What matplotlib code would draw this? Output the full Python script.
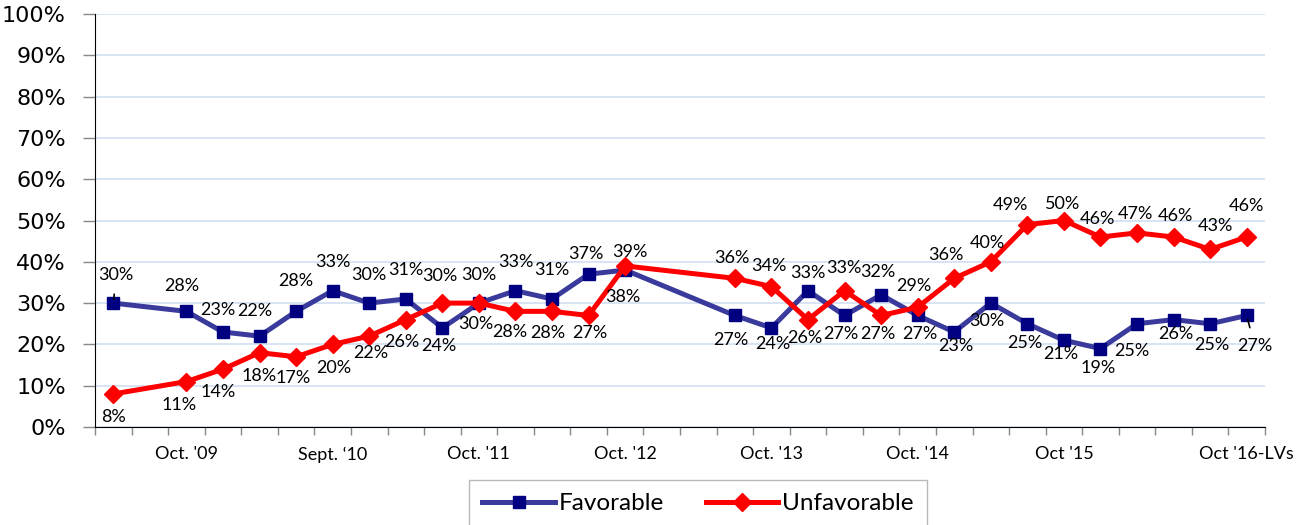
import matplotlib
matplotlib.use("Agg")
import matplotlib.pyplot as plt
from matplotlib.lines import Line2D

# ---------------- data ----------------
categories = ["", "", "Oct. '09", "", "", "", "Sept. \u201810", "", "", "", "Oct. '11", "", "", "",
              "Oct. '12", "", "", "", "Oct. '13", "", "", "", "Oct. '14", "", "", "",
              "Oct '15", "", "", "", "", "Oct '16-LVs"]
favorable = [30, None, 28, 23, 22, 28, 33, 30, 31, 24, 30, 33, 31, 37, 38, None, None,
             27, 24, 33, 27, 32, 27, 23, 30, 25, 21, 19, 25, 26, 25, 27]
unfavorable = [8, None, 11, 14, 18, 17, 20, 22, 26, 30, 30, 28, 28, 27, 39, None, None,
               36, 34, 26, 33, 27, 29, 36, 40, 49, 50, 46, 47, 46, 43, 46]

# label offsets in pixels (dx, dy downward) per category index
fav_off = {0: (3, -28), 2: (-5, -25), 3: (-5, -22), 4: (-5, -25), 5: (0, -30), 6: (0, -29),
           7: (0, -28), 8: (0, -29), 9: (-4, 18), 10: (0, -28), 11: (0, -29), 12: (0, -29),
           13: (-3, -20), 14: (-2, 27), 17: (-4, 25), 18: (1, 16), 19: (0, -18), 20: (-4, 19),
           21: (-3, -23), 22: (2, 19), 23: (2, 14), 24: (-4, 18), 25: (-3, 19), 26: (-3, 14),
           27: (-2, 19), 28: (-5, 27), 29: (2, 14), 30: (2, 21), 31: (8, 31)}
unf_off = {0: (0, 23), 2: (-7, 23), 3: (-5, 23), 4: (0, 23), 5: (-3, 21), 6: (1, 24),
           7: (2, 17), 8: (-4, 22), 9: (-3, -27), 10: (-3, 21), 11: (-6, 21), 12: (-4, 22),
           13: (1, 18), 14: (5, -14), 17: (-3, -20), 18: (-3, -21), 19: (-3, 18), 20: (-1, -23),
           21: (-3, 19), 22: (-4, -21), 23: (-8, -23), 24: (-3, -19), 25: (-17, -20),
           26: (-1, -17), 27: (-3, -18), 28: (-2, -19), 29: (2, -21), 30: (5, -23), 31: (0, -31)}
leaders = {0, 31}

FAV_LINE = "#3a3a9c"
FAV_MARK = "#000080"
UNF = "#ff0000"
LBL_FONT = ["Lato", "DejaVu Sans"]

fig = plt.figure(figsize=(13.11, 5.25), dpi=100)
ax = fig.add_axes([95 / 1311, 1 - 427 / 525, (1265 - 95) / 1311, (427 - 14) / 525])

fx = [i for i, v in enumerate(favorable) if v is not None]
fy = [favorable[i] / 100 for i in fx]
ux = [i for i, v in enumerate(unfavorable) if v is not None]
uy = [unfavorable[i] / 100 for i in ux]

ax.plot(fx, fy, color=FAV_LINE, lw=3.6, marker="s", ms=9, mfc=FAV_MARK, mec=FAV_MARK,
        zorder=3, solid_joinstyle="round")
ax.plot(ux, uy, color=UNF, lw=3.6, marker="D", ms=9.5, mfc=UNF, mec=UNF, zorder=4,
        solid_joinstyle="round")

def add_labels(xs, vals, offs):
    for i in xs:
        v = vals[i]
        dx, dy = offs.get(i, (0, -20))
        kw = {}
        if i in leaders and offs is fav_off:
            kw = dict(arrowprops=dict(arrowstyle="-", color="black", lw=1.2,
                                      shrinkA=6, shrinkB=3))
        ax.annotate(f"{v}%", (i, v / 100), xytext=(dx, -dy), textcoords="offset pixels",
                    ha="center", va="center", fontsize=13, family=LBL_FONT,
                    color="black", zorder=6, **kw)

add_labels(fx, favorable, fav_off)
add_labels(ux, unfavorable, unf_off)

ax.set_xlim(-0.5, len(categories) - 0.5)
ax.set_ylim(0, 1)
ax.set_yticks([i / 10 for i in range(11)])
ax.set_yticklabels([f"{i * 10}%" for i in range(11)], fontsize=16, family="DejaVu Sans")
ax.tick_params(axis="y", length=9, width=1, color="#888888", pad=12)
ax.grid(axis="y", color="#cddcf0", lw=1.1, zorder=0)
ax.set_axisbelow(True)

lab_idx = [i for i, c in enumerate(categories) if c]
ax.set_xticks(lab_idx)
ax.set_xticklabels([categories[i] for i in lab_idx], fontsize=13, family=LBL_FONT)
ax.set_xticks([i - 0.5 for i in range(len(categories) + 1)], minor=True)
ax.tick_params(axis="x", which="major", length=0, pad=14)
ax.tick_params(axis="x", which="minor", length=6, width=1, color="#888888")

for s in ["top", "right"]:
    ax.spines[s].set_visible(False)
ax.spines["left"].set_color("black")
ax.spines["bottom"].set_color("black")

handles = [Line2D([], [], color=FAV_LINE, lw=3.6, marker="s", ms=9, mfc=FAV_MARK, mec=FAV_MARK),
           Line2D([], [], color=UNF, lw=3.6, marker="D", ms=9.5, mfc=UNF, mec=UNF)]
leg = fig.legend(handles, ["Favorable", "Unfavorable"], loc="upper center",
                 bbox_to_anchor=(698 / 1311, 1 - 480 / 525), ncol=2, frameon=True,
                 fancybox=False, prop={"family": LBL_FONT, "size": 17.5}, handlelength=3.0,
                 handletextpad=0.15, columnspacing=1.7, borderpad=0.55, borderaxespad=0)
leg.get_frame().set_edgecolor("#a6a6a6")
leg.get_frame().set_linewidth(1)

fig.savefig("out.png", dpi=100)
